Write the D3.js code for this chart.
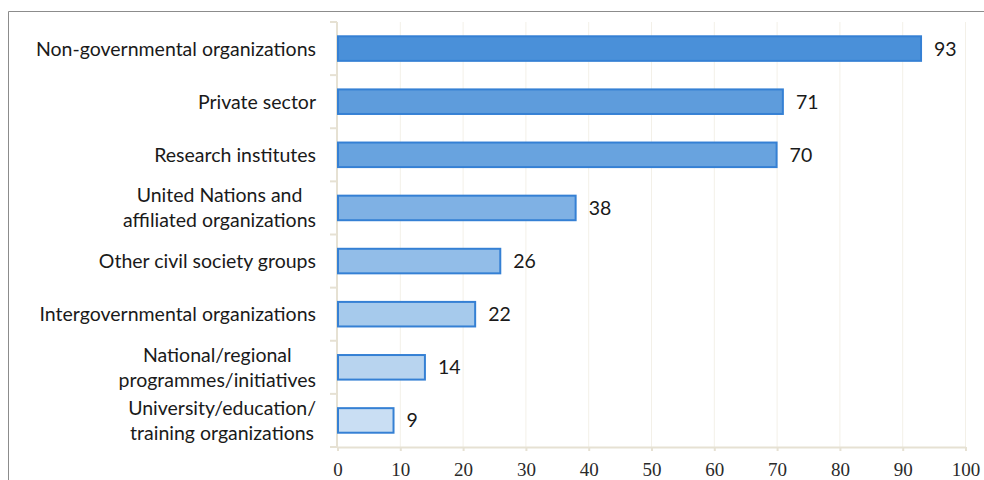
<!DOCTYPE html>
<html>
<head>
<meta charset="utf-8">
<script src="https://cdn.jsdelivr.net/npm/d3@7"></script>
<style>
  body { margin: 0; background: #fff; }
  svg { display: block; }
</style>
</head>
<body>
<div id="chart"></div>
<script>
var categories = [
  ["Non-governmental organizations"],
  ["Private sector"],
  ["Research institutes"],
  ["United Nations and", "affiliated organizations"],
  ["Other civil society groups"],
  ["Intergovernmental organizations"],
  ["National/regional", "programmes/initiatives"],
  ["University/education/", "training organizations"]
];
var values = [93, 71, 70, 38, 26, 22, 14, 9];
var fills = ["#4a90d9", "#5e9cdc", "#68a3df", "#7fb1e4", "#92bde8", "#a6caec", "#b8d4ef", "#c9def3"];
var xTicks = [0, 10, 20, 30, 40, 50, 60, 70, 80, 90, 100];

var W = 984, H = 480;
var margin = {top: 22, left: 337, right: 19, bottom: 33};

var svg = d3.select('#chart').append('svg')
  .attr('width', W)
  .attr('height', H);

// outer frame (left + top only, rest is cut off)
svg.append('path')
  .attr('d', 'M8.5,' + H + 'V11.5H' + W)
  .attr('fill', 'none')
  .attr('stroke', '#8c8c8c')
  .attr('stroke-width', 1);

var x = d3.scaleLinear().domain([0, 100]).range([margin.left, W - margin.right]);
var y = d3.scaleBand().domain(d3.range(categories.length))
  .range([margin.top, H - margin.bottom])
  .paddingInner(0.5).paddingOuter(0.25);

var axisCol = '#e6e1d3';
var sansFont = 'Lato, "Open Sans", sans-serif';

// gridlines
svg.append('g').selectAll('line')
  .data(xTicks.slice(1)).enter()
  .append('line')
    .attr('x1', function(d) { return x(d) + 0.5; })
    .attr('x2', function(d) { return x(d) + 0.5; })
    .attr('y1', margin.top)
    .attr('y2', H - margin.bottom)
    .attr('stroke', '#f3f0e8')
    .attr('stroke-width', 1);

// x axis
var xAxis = svg.append('g')
  .attr('transform', 'translate(0.5,' + (H - margin.bottom) + ')')
  .call(d3.axisBottom(x).tickValues(xTicks).tickSize(4).tickPadding(12).tickSizeOuter(0));
xAxis.attr('font-family', null).attr('font-size', null);
xAxis.select('.domain').attr('stroke', axisCol).attr('stroke-width', 2);
xAxis.selectAll('.tick line').attr('stroke', axisCol).attr('stroke-width', 2);
xAxis.selectAll('text')
  .style('font-family', "'Liberation Serif', 'DejaVu Serif', serif")
  .style('font-size', '19px')
  .attr('fill', '#2a2a2a');

// y axis line + ticks at band boundaries
var step = y.step();
var yTickPos = d3.range(categories.length + 1).map(function(i) { return margin.top + i * step; });
svg.append('line')
  .attr('x1', x(0)).attr('x2', x(0))
  .attr('y1', margin.top).attr('y2', H - margin.bottom)
  .attr('stroke', axisCol).attr('stroke-width', 2);
svg.append('g').selectAll('line')
  .data(yTickPos).enter()
  .append('line')
    .attr('x1', x(0) - 7).attr('x2', x(0))
    .attr('y1', function(d) { return d; })
    .attr('y2', function(d) { return d; })
    .attr('stroke', axisCol).attr('stroke-width', 2);

// bars
svg.append('g').selectAll('rect')
  .data(values).enter()
  .append('rect')
    .attr('x', x(0) + 1)
    .attr('y', function(d, i) { return y(i) + 1; })
    .attr('width', function(d) { return x(d) - x(0) - 1; })
    .attr('height', y.bandwidth() - 2)
    .attr('fill', function(d, i) { return fills[i]; })
    .attr('stroke', '#3580d4')
    .attr('stroke-width', 2);

// value labels
svg.append('g').selectAll('text')
  .data(values).enter()
  .append('text')
    .attr('x', function(d) { return x(d) + 13; })
    .attr('y', function(d, i) { return y(i) + y.bandwidth() / 2; })
    .attr('dy', '0.36em')
    .style('font-family', sansFont)
    .style('font-size', '19.5px')
    .attr('fill', '#1a1a1a')
    .text(function(d) { return d; });

// category labels, multi-line ones centred as a block that ends at labelRight
var labelRight = x(0) - 21;
var lineH = 25;
var labels = svg.append('g').selectAll('text')
  .data(categories).enter()
  .append('text')
    .style('font-family', sansFont)
    .style('font-size', '19.5px')
    .attr('fill', '#1a1a1a');

labels.each(function(lines, i) {
  var t = d3.select(this);
  var cy = y(i) + y.bandwidth() / 2;
  var spans = t.selectAll('tspan').data(lines).enter().append('tspan')
    .attr('dy', '0.36em')
    .attr('y', function(d, j) { return cy + (j - (lines.length - 1) / 2) * lineH; })
    .text(function(d) { return d; });
  if (lines.length === 1) {
    t.attr('text-anchor', 'end');
    spans.attr('x', labelRight);
  } else {
    var maxW = 0;
    spans.each(function() { maxW = Math.max(maxW, this.getComputedTextLength()); });
    t.attr('text-anchor', 'middle');
    spans.attr('x', labelRight - maxW / 2);
  }
});
</script>
</body>
</html>
